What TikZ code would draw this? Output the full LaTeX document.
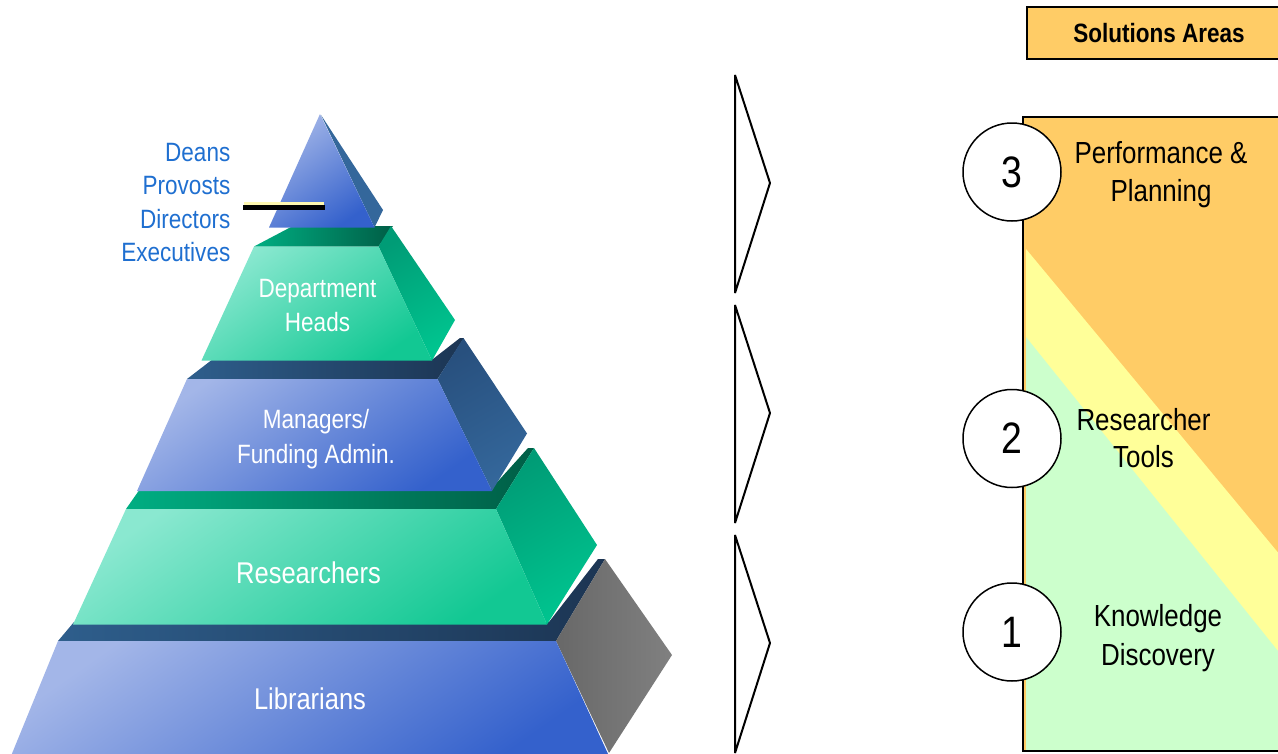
\documentclass[tikz,border=0pt]{standalone}
\usepackage{fontspec}
\setmainfont{Liberation Sans}[FakeStretch=0.85]

\definecolor{tierBlueLt}{HTML}{A3B6E8}
\definecolor{tierBlueDk}{HTML}{3461CC}
\definecolor{tierGreenLt}{HTML}{8AE8D0}
\definecolor{tierGreenDk}{HTML}{12C893}
\definecolor{stripNavyLt}{HTML}{2E5E8C}
\definecolor{stripNavyDk}{HTML}{1C3553}
\definecolor{stripGreenLt}{HTML}{00AE82}
\definecolor{stripGreenDk}{HTML}{005E46}
\definecolor{sideBlueDk}{HTML}{28507E}
\definecolor{sideBlueLt}{HTML}{34679B}
\definecolor{sideGreenDk}{HTML}{009C76}
\definecolor{sideGreenLt}{HTML}{00C48F}
\definecolor{sideGrayDk}{HTML}{686868}
\definecolor{sideGrayLt}{HTML}{808080}
\definecolor{labelBlue}{HTML}{1F6FD0}
\definecolor{pointerYellow}{HTML}{FFF8B0}
\definecolor{areaOrange}{HTML}{FFCC66}
\definecolor{areaYellow}{HTML}{FFFF99}
\definecolor{areaGreen}{HTML}{CCFFCC}

\begin{document}
\begin{tikzpicture}[x=1pt, y=-1pt,
    bluefront/.style={left color=tierBlueLt, right color=tierBlueDk, shading angle=35},
    greenfront/.style={left color=tierGreenLt, right color=tierGreenDk, shading angle=35},
    navystrip/.style={left color=stripNavyLt, right color=stripNavyDk},
    greenstrip/.style={left color=stripGreenLt, right color=stripGreenDk},
    blueside/.style={left color=sideBlueDk, right color=sideBlueLt, shading angle=30},
    greenside/.style={left color=sideGreenDk, right color=sideGreenLt, shading angle=30},
    grayside/.style={left color=sideGrayDk, right color=sideGrayLt},
    tierlabel/.style={text=white, align=center, inner sep=0pt},
    arealabel/.style={text=black, align=center, inner sep=0pt},
    areanum/.style={circle, draw=black, line width=1.5pt, fill=white, minimum size=98pt,
        inner sep=0pt, font=\fontsize{44}{44}\selectfont},
    chevron/.style={draw=black, line width=2pt, line join=bevel}]
    \useasboundingbox (0,0) rectangle (1278,753);
    \clip (0,0) rectangle (1278,753);

    % pyramid, bottom tier first
    \shade[navystrip] (58,641) -- (74,622) -- (549,622) -- (598,559) -- (605,559) -- (556,641) -- cycle;
    \shade[grayside] (556,641) -- (605,559) -- (672,655) -- (609,753) -- cycle;
    \shade[bluefront] (58,641) -- (556,641) -- (609,756) -- (11,756) -- cycle;

    \shade[greenstrip] (126,509) -- (140,489) -- (491,489) -- (528,448) -- (534,448) -- (496,509) -- cycle;
    \shade[greenside] (496,509) -- (534,448) -- (597,545) -- (547,624.5) -- cycle;
    \shade[greenfront] (126,509) -- (496,509) -- (547,624.5) -- (73,624.5) -- cycle;

    \shade[navystrip] (187,379) -- (213,359) -- (433,359) -- (460,338) -- (464,338) -- (437.5,379) -- cycle;
    \shade[blueside] (437.5,379) -- (463.5,338) -- (527,433.5) -- (492,491) -- cycle;
    \shade[bluefront] (187,379) -- (437.5,379) -- (492,491) -- (137,491) -- cycle;

    \shade[greenstrip] (254,246.5) -- (291,227) -- (393,226) -- (378.5,246.5) -- cycle;
    \shade[greenside] (378.5,246.5) -- (391,226) -- (455,320) -- (432,360.5) -- cycle;
    \shade[greenfront] (254,246.5) -- (378.5,246.5) -- (432,360.5) -- (201.5,360.5) -- cycle;

    \fill[sideBlueLt] (321,115) -- (383,210) -- (374.5,227.5) -- cycle;
    \shade[bluefront] (320,114) -- (374.5,227.5) -- (269,227.5) -- cycle;

    \node[tierlabel, font=\fontsize{26.5}{34}\selectfont] (heads) at (317.5,305.4) {Department\\Heads};
    \node[tierlabel, font=\fontsize{26.5}{35}\selectfont] (managers) at (316,439) {Managers/\\Funding Admin.};
    \node[tierlabel, font=\fontsize{30}{36}\selectfont] (researchers) at (308.5,573) {Researchers};
    \node[tierlabel, font=\fontsize{30}{36}\selectfont] (librarians) at (310,698.3) {Librarians};

    \node[anchor=east, align=right, inner sep=0pt, text=labelBlue,
        font=\fontsize{26.5}{33.5}\selectfont] (leaders) at (230.5,202.75)
        {Deans\\Provosts\\Directors\\Executives};
    \draw[line width=5.5pt] (243,207.7) -- (325,207.7);
    \draw[line width=3.3pt, pointerYellow] (244,203.4) -- (324,203.4);

    % chevrons
    \foreach \ytop in {75,305,535}
        \draw[chevron] (735,\ytop) -- ++(35,108) -- ++(-35,110) -- cycle;

    % solution areas
    \node[draw=black, line width=1.5pt, fill=areaOrange, minimum width=264pt, minimum height=52pt,
        inner sep=0pt, font=\bfseries\fontsize{26.5}{30}\selectfont] (solutions) at (1159,33) {Solutions Areas};

    \fill[areaOrange] (1023,117) rectangle (1290,751);
    \fill[areaYellow] (1026,249) -- (1290,567) -- (1290,751) -- (1026,751) -- cycle;
    \fill[areaGreen] (1026,337) -- (1290,666) -- (1290,751) -- (1026,751) -- cycle;
    \draw[line width=1.5pt] (1023,117) rectangle (1290,751);

    \node[areanum] (num3) at (1012,172) {3};
    \node[areanum] (num2) at (1012,438.5) {2};
    \node[areanum] (num1) at (1012,632) {1};

    \node[arealabel, font=\fontsize{30.5}{38}\selectfont] (planning) at (1161,175) {Performance \&\\Planning};
    \node[arealabel, font=\fontsize{30.5}{37.5}\selectfont] (tools) at (1143.5,437.9) {Researcher\\Tools};
    \node[arealabel, font=\fontsize{30.5}{39}\selectfont] (discovery) at (1158,638.4) {Knowledge\\Discovery};
\end{tikzpicture}
\end{document}
